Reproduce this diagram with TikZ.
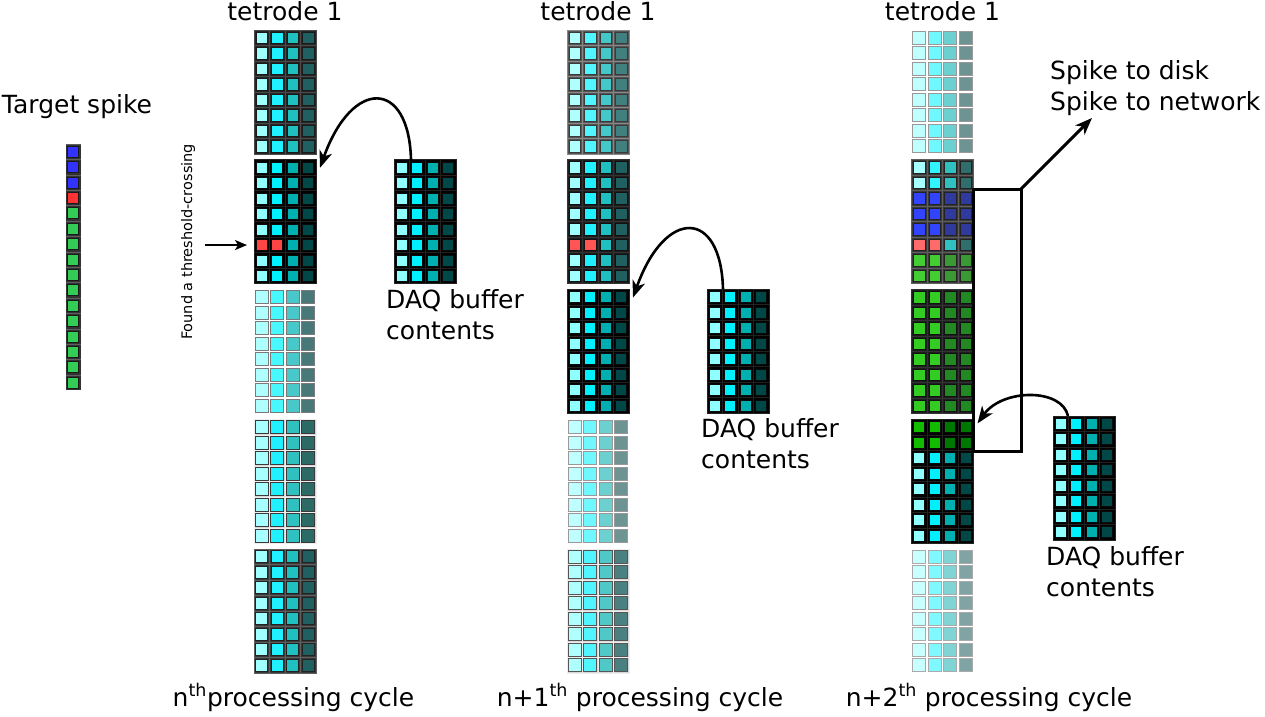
\documentclass[tikz,border=0pt]{standalone}
\usepackage{fontspec}
\setmainfont{DejaVu Sans}
\usetikzlibrary{arrows.meta}
% palettes
\definecolor{K1}{HTML}{90FFFF}\definecolor{K2}{HTML}{00F0FF}\definecolor{K3}{HTML}{00B0B0}\definecolor{K4}{HTML}{004848}
\definecolor{D1}{HTML}{A0FFFF}\definecolor{D2}{HTML}{20F0FF}\definecolor{D3}{HTML}{20C0C0}\definecolor{D4}{HTML}{206060}
\definecolor{M1}{HTML}{B0FFFF}\definecolor{M2}{HTML}{50F5FF}\definecolor{M3}{HTML}{45C8C8}\definecolor{M4}{HTML}{428080}
\definecolor{E1}{HTML}{A8FFFF}\definecolor{E2}{HTML}{20F0FF}\definecolor{E3}{HTML}{30C0C0}\definecolor{E4}{HTML}{2C6A66}
\definecolor{F1}{HTML}{B0FFFF}\definecolor{F2}{HTML}{50F5FF}\definecolor{F3}{HTML}{50C8C8}\definecolor{F4}{HTML}{4A8080}
\definecolor{L1}{HTML}{B0FFFF}\definecolor{L2}{HTML}{48F8FF}\definecolor{L3}{HTML}{48C8C8}\definecolor{L4}{HTML}{487878}
\definecolor{P1}{HTML}{C0FFFF}\definecolor{P2}{HTML}{6FF8FF}\definecolor{P3}{HTML}{6DD0D0}\definecolor{P4}{HTML}{6D9393}
\definecolor{Q1}{HTML}{C8FFFF}\definecolor{Q2}{HTML}{80F8FF}\definecolor{Q3}{HTML}{80D4D4}\definecolor{Q4}{HTML}{80A4A4}
\definecolor{C1}{HTML}{A8FFFF}\definecolor{C2}{HTML}{30F4FF}\definecolor{C3}{HTML}{30C0C0}\definecolor{C4}{HTML}{306E6E}
\definecolor{U1}{HTML}{3344FF}\definecolor{U2}{HTML}{3344FF}\definecolor{U3}{HTML}{30399C}\definecolor{U4}{HTML}{30399C}
\definecolor{T1}{HTML}{FF6B6B}\definecolor{T2}{HTML}{FF6B6B}\definecolor{T3}{HTML}{30C0C0}\definecolor{T4}{HTML}{306E6E}
\definecolor{G1}{HTML}{44CC33}\definecolor{G2}{HTML}{44CC33}\definecolor{G3}{HTML}{3A9933}\definecolor{G4}{HTML}{3A9933}
\definecolor{H1}{HTML}{33CC22}\definecolor{H2}{HTML}{33CC22}\definecolor{H3}{HTML}{228822}\definecolor{H4}{HTML}{228822}
\definecolor{V1}{HTML}{11BB00}\definecolor{V2}{HTML}{11BB00}\definecolor{V3}{HTML}{007700}\definecolor{V4}{HTML}{007700}
\definecolor{R1}{HTML}{FF4444}\definecolor{R2}{HTML}{FF4444}\definecolor{R3}{HTML}{00B0B0}\definecolor{R4}{HTML}{004848}
\definecolor{S1}{HTML}{FF5555}\definecolor{S2}{HTML}{FF5555}\definecolor{S3}{HTML}{20C0C0}\definecolor{S4}{HTML}{206060}
% block looks
\definecolor{bgA}{HTML}{262626}\definecolor{grA}{HTML}{4A4A4A}\definecolor{bdA}{HTML}{1A1A1A}
\definecolor{bgB}{HTML}{3A3A3A}\definecolor{grB}{HTML}{5E5E5E}\definecolor{bdB}{HTML}{222222}
\definecolor{bgM}{HTML}{555555}\definecolor{grM}{HTML}{888888}\definecolor{bdM}{HTML}{3A3A3A}
\definecolor{bgN}{HTML}{1E1E1E}\definecolor{grN}{HTML}{333333}\definecolor{bdN}{HTML}{111111}
\definecolor{bgK}{HTML}{000000}\definecolor{grK}{HTML}{222222}\definecolor{bdK}{HTML}{0A0A0A}
\definecolor{bgL}{HTML}{D8D8D8}\definecolor{grL}{HTML}{EEEEEE}
\definecolor{bdE}{HTML}{3A3A3A}\definecolor{bdF}{HTML}{555555}
\definecolor{bdW}{HTML}{7A7A7A}\definecolor{bdP}{HTML}{999999}\definecolor{bdQ}{HTML}{AAAAAA}
\definecolor{tsbg}{HTML}{333333}\definecolor{tsB}{HTML}{3333FF}\definecolor{tsR}{HTML}{FF3333}\definecolor{tsG}{HTML}{33CC55}
% #1 name, #2 x, #3 y, #4 bg, #5 grid, #6 square size, #7 square border, #8 row palettes
\newcommand\blockat[8]{%
  \fill[#4] (#2,#3) rectangle ++(62,124);
  \foreach \k in {1,2,3} \draw[#5,line width=0.8pt] ({#2+\k*15.5},#3) -- ++(0,124);
  \foreach \k in {1,...,7} \draw[#5,line width=0.8pt] (#2,{#3+\k*15.5}) -- ++(62,0);
  \draw[#5,line width=0.8pt] (#2,#3) rectangle ++(62,124);
  \foreach \pal [count=\j from 0] in {#8}{
    \foreach \cc [count=\ii from 0] in {\pal1,\pal2,\pal3,\pal4}{
      \draw[fill=\cc,draw=#7,line width=1pt] ({#2+\ii*15.5+7.75-#6/2},{#3+\j*15.5+7.75-#6/2}) rectangle ++(#6,#6);
    }}
  \node[blk] (#1) at ({#2+31},{#3+62}) {};
}
\begin{document}
\begin{tikzpicture}[x=1pt,y=-1pt,
  blk/.style={minimum width=62pt,minimum height=124pt,inner sep=0pt,outer sep=0pt},
  lbl/.style={font=\fontsize{25}{31}\selectfont,inner sep=0pt},
  carr/.style={line width=2.6pt,-{Stealth[length=17pt,width=13pt,inset=5pt]}},
  sarr/.style={line width=1.8pt,-{Stealth[length=12pt,width=10pt,inset=3pt]}},
  brk/.style={line width=3pt}]
\useasboundingbox (0,0) rectangle (1265,716);

% column 1
\blockat{c1b1}{254}{30}{bgA}{grA}{11.5}{bdA}{D,D,D,D,D,D,D,D}
\blockat{c1b2}{254}{159.8}{bgK}{grK}{11}{bdK}{K,K,K,K,K,R,K,K}
\blockat{c1b3}{254}{289.6}{white}{white}{13}{bdW}{L,L,L,L,L,L,L,L}
\blockat{c1b4}{254}{419.4}{bgL}{grL}{13}{bdE}{E,E,E,E,E,E,E,E}
\blockat{c1b5}{254}{549.2}{bgB}{grB}{12}{bdB}{D,D,D,D,D,D,D,D}
\blockat{d1}{394}{159.8}{bgK}{grK}{11}{bdK}{K,K,K,K,K,K,K,K}

% column 2
\blockat{c2b1}{567}{30}{bgM}{grM}{11.5}{bdM}{M,M,M,M,M,M,M,M}
\blockat{c2b2}{567}{159.8}{bgN}{grN}{11.5}{bdN}{D,D,D,D,D,S,D,D}
\blockat{c2b3}{567}{289.6}{bgK}{grK}{11}{bdK}{K,K,K,K,K,K,K,K}
\blockat{c2b4}{567}{419.4}{white}{white}{13}{bdP}{P,P,P,P,P,P,P,P}
\blockat{c2b5}{567}{549.2}{bgL}{grL}{13}{bdF}{F,F,F,F,F,F,F,F}
\blockat{d2}{707}{289.3}{bgK}{grK}{11}{bdK}{K,K,K,K,K,K,K,K}

% column 3
\blockat{c3b1}{911.5}{30}{white}{white}{13}{bdP}{P,P,P,P,P,P,P,P}
\blockat{c3b2}{911.5}{159.8}{bgB}{grB}{11.5}{bdB}{C,C,U,U,U,T,G,G}
\blockat{c3b3}{911.5}{289.6}{bgN}{grN}{11.5}{bdN}{H,H,H,H,H,H,H,H}
\blockat{c3b4}{911.5}{419.4}{bgK}{grK}{11}{bdK}{V,V,K,K,K,K,K,K}
\blockat{c3b5}{911.5}{549.2}{white}{white}{13}{bdQ}{Q,Q,Q,Q,Q,Q,Q,Q}
\blockat{d3}{1053}{416}{bgK}{grK}{11}{bdK}{K,K,K,K,K,K,K,K}

% target spike
\fill[tsbg] (65.5,144) rectangle ++(15.5,246.4);
\foreach \cc [count=\j from 0] in {tsB,tsB,tsB,tsR,tsG,tsG,tsG,tsG,tsG,tsG,tsG,tsG,tsG,tsG,tsG,tsG}{
  \draw[fill=\cc,draw=bdA,line width=1pt] (67.75,{144+\j*15.4+2.2}) rectangle ++(11,11);
  \draw[grB,line width=0.6pt] (65.5,{144+\j*15.4}) -- ++(15.5,0);
}
\node[minimum width=15.5pt,minimum height=246.4pt,inner sep=0pt] (ts) at (73.25,267.2) {};

% texts
\node[lbl,anchor=base] (tsl) at (77,113) {Target spike};
\node[lbl,anchor=base] (tt1) at (285,20) {tetrode 1};
\node[lbl,anchor=base] (tt2) at (598,20) {tetrode 1};
\node[lbl,anchor=base] (tt3) at (942.5,20) {tetrode 1};
\node[lbl,align=left,anchor=north west] (q1) at (386,289) {DAQ buffer\\contents};
\node[lbl,align=left,anchor=north west] (q2) at (701,418) {DAQ buffer\\contents};
\node[lbl,align=left,anchor=north west] (q3) at (1046,546) {DAQ buffer\\contents};
\node[lbl,align=left,anchor=north west] (sp) at (1050,60) {Spike to disk\\Spike to network};
\node[lbl,anchor=base] (cy1) at (293.5,706) {n\textsuperscript{th}processing cycle};
\node[lbl,anchor=base] (cy2) at (640,706) {n+1\textsuperscript{th} processing cycle};
\node[lbl,anchor=base] (cy3) at (989,706) {n+2\textsuperscript{th} processing cycle};
\node[font=\fontsize{14.5}{17}\selectfont,rotate=90,inner sep=0pt] (ft) at (188,242) {Found a threshold-crossing};

% threshold arrow
\coordinate (fa) at (205,245);
\draw[sarr,shorten >=7pt] (fa) -- ([yshift=-23.25pt]c1b2.west);

% curved arrows
\draw[carr] ([xshift=-14pt]d1.north) .. controls +(-2,-81) and +(32,-90) .. ([xshift=4pt,yshift=-8pt]c1b2.north east);
\draw[carr] ([xshift=-15pt]d2.north) .. controls +(-2,-81) and +(32,-90) .. ([xshift=4pt,yshift=-8pt]c2b3.north east);
\draw[carr] ([xshift=-16pt]d3.north) .. controls +(-6,-28) and +(25,-35) .. ([xshift=4pt,yshift=-4pt]c3b4.north east);

% bracket and output arrow
\coordinate (bl) at (973.5,189);
\coordinate (bt) at (1021,189);
\coordinate (bb) at (1021,451);
\coordinate (bbl) at (973.5,451);
\coordinate (spk) at (1092,118);
\draw[brk,line join=miter] (bl) -- (bt) -- (bb) -- (bbl) -- cycle;
\draw[carr,line width=3pt] (bt) -- (spk);
\end{tikzpicture}
\end{document}
